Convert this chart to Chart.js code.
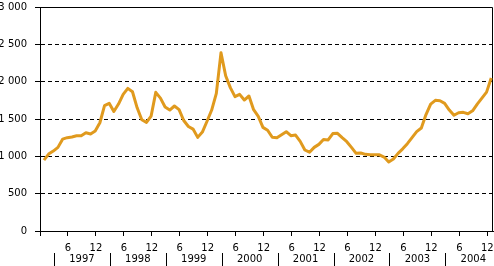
<!DOCTYPE html>
<html>
<head>
<meta charset="utf-8">
<script src="https://cdn.jsdelivr.net/npm/chart.js@4.4.3/dist/chart.umd.min.js"></script>
<style>
  html, body { margin: 0; padding: 0; background: #fff; }
  #wrap { width: 494px; height: 266px; }
</style>
</head>
<body>
<div id="wrap"><canvas id="chart" width="494" height="266"></canvas></div>
<script>
// Monthly values, Jan 1997 .. Jan 2005
var VALUES = [
	950, 1030, 1070, 1120, 1230, 1250, 1260, 1275, 1275, 1315, 1300, 1340,
	1450, 1680, 1710, 1600, 1700, 1830, 1910, 1865, 1650, 1490, 1455, 1540,
	1857, 1780, 1660, 1620, 1674, 1625, 1480, 1400, 1365, 1254, 1325, 1470,
	1620, 1843, 2388, 2080, 1920, 1800, 1830, 1754, 1808, 1625, 1535, 1388,
	1350, 1255, 1250, 1290, 1330, 1276, 1285, 1200, 1085, 1055, 1120, 1160,
	1225, 1219, 1305, 1308, 1250, 1196, 1120, 1040, 1045, 1027, 1020, 1020,
	1020, 990, 925, 964, 1040, 1100, 1170, 1250, 1330, 1380, 1560, 1700,
	1750, 1745, 1710, 1620, 1550, 1584, 1589, 1570, 1610, 1700, 1780, 1860,
	2050
];
var YEARS = ['1997', '1998', '1999', '2000', '2001', '2002', '2003', '2004'];
var MONTH_TICKS = [6, 12];
var MONTH_TICK_LABELS = ['6', '12'];
var Y_TICKS = [0, 500, 1000, 1500, 2000, 2500, 3000];
var Y_TICK_LABELS = ['0', '500', '1 000', '1 500', '2 000', '2 500', '3 000'];

var LINE_COLOR = '#E09A1E';
var FONT = { family: 'DejaVu Sans', size: 10 };

(function () {
	'use strict';

	// month ticks: 0 (unlabelled), then 6, 12 each year
	var xTicks = [0];
	YEARS.forEach(function (y, k) {
		MONTH_TICKS.forEach(function (m) { xTicks.push(k * 12 + m); });
	});

	// frame (top + right) and the year row under the month ticks
	var framePlugin = {
		id: 'frame',
		beforeDatasetsDraw: function (chart) {
			var a = chart.chartArea, ctx = chart.ctx;
			var t = Math.round(a.top) + 0.5, r = Math.round(a.right) - 0.5;
			ctx.save();
			ctx.strokeStyle = '#000';
			ctx.lineWidth = 1;
			ctx.beginPath();
			ctx.moveTo(Math.round(a.left), t);
			ctx.lineTo(r, t);
			ctx.lineTo(r, Math.round(a.bottom));
			ctx.stroke();
			ctx.restore();
		},
		afterDraw: function (chart) {
			var x = chart.scales.x, ctx = chart.ctx;
			ctx.save();
			ctx.strokeStyle = '#000';
			ctx.fillStyle = '#000';
			ctx.lineWidth = 1;
			ctx.font = FONT.size + 'px "' + FONT.family + '"';
			ctx.textAlign = 'center';
			ctx.textBaseline = 'middle';
			YEARS.forEach(function (y, k) {
				var sx = Math.round(x.getPixelForValue(3 + k * 12)) + 0.5;
				ctx.beginPath();
				ctx.moveTo(sx, 253);
				ctx.lineTo(sx, 266);
				ctx.stroke();
				ctx.fillText(y, x.getPixelForValue(9 + k * 12), 259.5);
			});
			ctx.restore();
		}
	};

	new Chart(document.getElementById('chart'), {
		type: 'line',
		data: {
			datasets: [{
				data: VALUES.map(function (v, i) { return { x: i + 0.85, y: v }; }),
				borderColor: LINE_COLOR,
				borderWidth: 3,
				borderJoinStyle: 'round',
				pointRadius: 0,
				tension: 0,
				fill: false
			}]
		},
		options: {
			responsive: false,
			animation: false,
			devicePixelRatio: 1,
			layout: { padding: { top: 7, right: 1, left: 0, bottom: 0 } },
			plugins: { legend: { display: false }, tooltip: { enabled: false } },
			scales: {
				x: {
					type: 'linear',
					min: 0,
					max: 97.23,
					afterBuildTicks: function (s) {
						s.ticks = xTicks.map(function (v) { return { value: v }; });
					},
					afterFit: function (s) {
						s.height = 35;
						s.paddingLeft = 0;
						s.paddingRight = 0;
					},
					ticks: {
						autoSkip: false,
						maxRotation: 0,
						padding: 6,
						color: '#000',
						font: FONT,
						callback: function (v) {
							if (v === 0) return '';
							return MONTH_TICK_LABELS[(v / 6 - 1) % 2];
						}
					},
					grid: {
						drawOnChartArea: false,
						drawTicks: true,
						tickLength: 5,
						tickColor: '#000'
					},
					border: { display: true, color: '#000', width: 1 }
				},
				y: {
					min: 0,
					max: 3000,
					afterBuildTicks: function (s) {
						s.ticks = Y_TICKS.map(function (v) { return { value: v }; });
					},
					afterFit: function (s) {
						s.width = 40;
						s.paddingTop = 0;
						s.paddingBottom = 0;
					},
					ticks: {
						padding: 8,
						color: '#000',
						font: FONT,
						callback: function (v, i) { return Y_TICK_LABELS[i]; }
					},
					grid: {
						color: function (c) {
							var v = c.tick ? c.tick.value : 0;
							return (v === 0 || v === 3000) ? 'rgba(0,0,0,0)' : '#000';
						},
						lineWidth: 1,
						drawTicks: true,
						tickLength: 5,
						tickColor: '#000'
					},
					border: { display: true, color: '#000', width: 1, dash: [4, 3] }
				}
			}
		},
		plugins: [framePlugin]
	});
})();
</script>
</body>
</html>
